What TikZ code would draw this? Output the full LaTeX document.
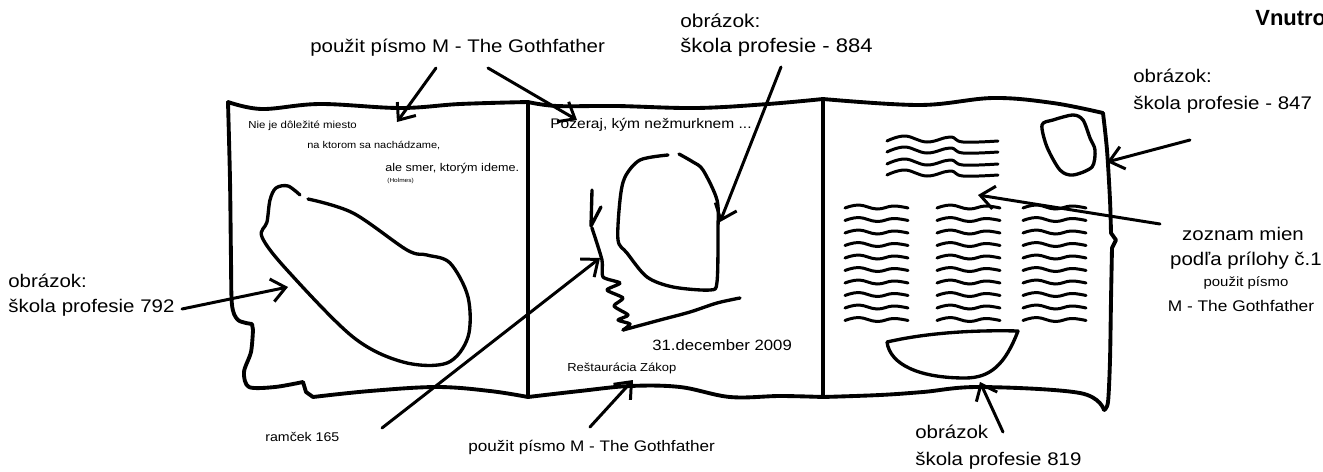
\documentclass[tikz,border=0pt]{standalone}
\usepackage{fontspec}
\setmainfont{Liberation Sans}[FakeStretch=1.12]
\newfontfamily\headfont{Liberation Sans}
\usetikzlibrary{arrows.meta}
\newcommand{\fsz}[1]{\fontsize{#1}{#1}\selectfont}

\begin{document}
\begin{tikzpicture}[x=0.02cm,y=-0.02cm,
  ink/.style={line width=2.2pt,line cap=round,line join=round},
  sketch/.style={line width=1.9pt,line cap=round,line join=round},
  rows/.style={line width=1.7pt,line cap=round},
  arr/.style={-{Straight Barb[length=2.8mm,width=4.6mm]},line width=1.7pt,line cap=round},
  lbl/.style={inner sep=0pt,anchor=base west},
  big/.style={lbl,font=\fsz{10.4}},
  small/.style={lbl,font=\fsz{7.2}},
  tiny/.style={lbl,font=\fsz{5.8}}]
  \useasboundingbox (0,0) rectangle (1323,471);

  % labels
  \node[lbl,font=\headfont\bfseries\fsz{12.5}] (vn) at (1255,25) {Vnutro};
  \node[big] (fontTop) at (310,52) {použit písmo M - The Gothfather};
  \node[big,font=\fsz{10.6}] (img884a) at (680,27) {obrázok:};
  \node[big,font=\fsz{11.2}] (img884b) at (680,52) {škola profesie - 884};
  \node[big] (img847a) at (1133,82) {obrázok:};
  \node[big] (img847b) at (1133,109) {škola profesie - 847};
  \node[big] (img792a) at (8,287) {obrázok:};
  \node[big] (img792b) at (8,312) {škola profesie 792};
  \node[small] (frame) at (265,441) {ramček 165};
  \node[big,font=\fsz{8.7}] (fontBot) at (468,451) {použit písmo M - The Gothfather};
  \node[big] (img819a) at (915,438) {obrázok};
  \node[big] (img819b) at (915,465) {škola profesie 819};
  \node[big,anchor=base] (names1) at (1243,240) {zoznam mien};
  \node[big,anchor=base] (names2) at (1246,265) {podľa prílohy č.1};
  \node[small,anchor=base,font=\fsz{7.6}] (names3) at (1246,286) {použit písmo};
  \node[small,anchor=base,font=\fsz{8.8}] (names4) at (1241,311) {M - The Gothfather};

  % quote and texts in the panels
  \node[tiny] (q1) at (248,128) {Nie je dôležité miesto};
  \node[tiny,font=\fsz{5.6}] (q2) at (307,148) {na ktorom sa nachádzame,};
  \node[tiny,font=\fsz{6.4}] (q3) at (385,171) {ale smer, ktorým ideme.};
  \node[lbl,font=\fsz{3.3}] (q4) at (387,182) {(Holmes)};
  \node[lbl,font=\fsz{7.9}] (look) at (550,128) {Pozeraj, kým nežmurknem ...};
  \node[lbl,font=\fsz{8.5}] (date) at (652,350) {31.december 2009};
  \node[lbl,font=\fsz{6.6}] (rest) at (567,371) {Reštaurácia Zákop};

  % frame of the three panels
  \draw[ink] plot[smooth,tension=.6] coordinates {(228,102)(262,109)(320,104)(400,108)(460,104)(528,102)};
  \draw[ink] plot[smooth,tension=.6] coordinates {(528,102)(557,106)(617,106)(696,108)(768,104)(823,99)};
  \draw[ink] plot[smooth,tension=.6] coordinates {(823,99)(920,105)(993,98)(1053,103)(1103,113)};
  \draw[ink] plot[smooth,tension=.5] coordinates {(228,102)(230,180)(231,260)(232,305)(238,320)(252,324)}
    -- plot[smooth,tension=.5] coordinates {(253,330)(251,352)(244,372)(249,387)(275,387)(303,382)}
    -- (306,392) -- plot[smooth,tension=.6] coordinates {(313,397)(370,391)(437,387)(490,391)(528,397)};
  \draw[ink] plot[smooth,tension=.6] coordinates {(528,397)(580,391)(630,386)(680,387)(730,397)(780,396)(823,397)};
  \draw[ink] plot[smooth,tension=.6] coordinates {(823,397)(880,395)(923,392)(980,387)(1080,393)(1104,410)};
  \draw[ink] plot[smooth,tension=.5] coordinates {(1103,113)(1107,150)(1110,200)(1111,233)}
    -- (1116,240) -- plot[smooth,tension=.5] coordinates {(1112,248)(1111,300)(1110,360)(1108,402)(1104,410)};
  \draw[ink] (528,102) -- (528,397);
  \draw[ink] (823,99) -- (823,397);

  % left panel picture
  \draw[sketch] plot[smooth,tension=.55] coordinates {(300,195)(288,186)(276,188)(270,200)(267,222)(262,237)
    (287,270)(353,337)(403,362)(447,363)(468,337)(468,297)(450,263)(427,255)(407,250)(353,213)(308,199)};

  % middle panel picture
  \draw[sketch] plot[smooth,tension=.5] coordinates {(668,155)(640,160)(625,177)(620,200)(618,240)(627,253)
    (647,277)(673,287)(710,290)(717,282)(718,230)(717,200)(703,170)(693,162)(679,154)};
  \draw[sketch] (592,190) -- (591,226) -- (601,207);
  \draw[sketch] plot[smooth,tension=.4] coordinates {(592,228)(602,260)(603,277)(620,283)(607,290)(623,298)
    (614,306)(628,315)(618,320)(630,324)(623,330)};
  \draw[sketch] plot[smooth,tension=.5] coordinates {(623,330)(660,320)(690,312)(717,303)(740,298)};

  % right panel pictures
  \draw[sketch] plot[smooth cycle,tension=.5] coordinates {(1042,125)(1053,120)(1073,115)(1083,120)(1090,138)
    (1095,150)(1092,167)(1073,175)(1060,170)(1047,147)};
  \draw[sketch] (887,342) .. controls (930,332) and (980,330) .. (1018,331)
    .. controls (1005,365) and (990,378) .. (965,378)
    .. controls (920,378) and (890,365) .. (887,342) -- cycle;
  \foreach \y in {141,152,164,175}
    \draw[rows] plot[smooth,tension=.7] coordinates {(887,\y)(905,\y-5)(927,\y+1)(950,\y-4)(963,\y+1)(998,\y)};
  \foreach \x in {845,937,1023}
    \foreach \i in {0,...,9}
      \draw[rows] plot[smooth,tension=.7] coordinates {(\x,208+12.5*\i)(\x+14,205+12.5*\i)(\x+32,209+12.5*\i)
        (\x+48,206+12.5*\i)(\x+63,208+12.5*\i)};

  % arrows
  \coordinate (tTopL) at (436,68);  \coordinate (hTopL) at (397,122);
  \coordinate (tTopR) at (488,68);  \coordinate (hTopR) at (577,120);
  \coordinate (t884) at (781,67);   \coordinate (h884) at (720,222);
  \coordinate (t792) at (182,309);  \coordinate (h792) at (288,287);
  \coordinate (tFrame) at (382,428); \coordinate (hFrame) at (600,258);
  \coordinate (tBot) at (590,427);  \coordinate (hBot) at (633,380);
  \coordinate (t819) at (1003,432); \coordinate (h819) at (980,382);
  \coordinate (tNames) at (1160,224); \coordinate (hNames) at (978,195);
  \coordinate (t847) at (1190,140); \coordinate (h847) at (1107,162);
  \foreach \a/\b in {tTopL/hTopL,tTopR/hTopR,t884/h884,t792/h792,tFrame/hFrame,tBot/hBot,t819/h819,tNames/hNames,t847/h847}
    \draw[arr] (\a) -- (\b);
\end{tikzpicture}
\end{document}
